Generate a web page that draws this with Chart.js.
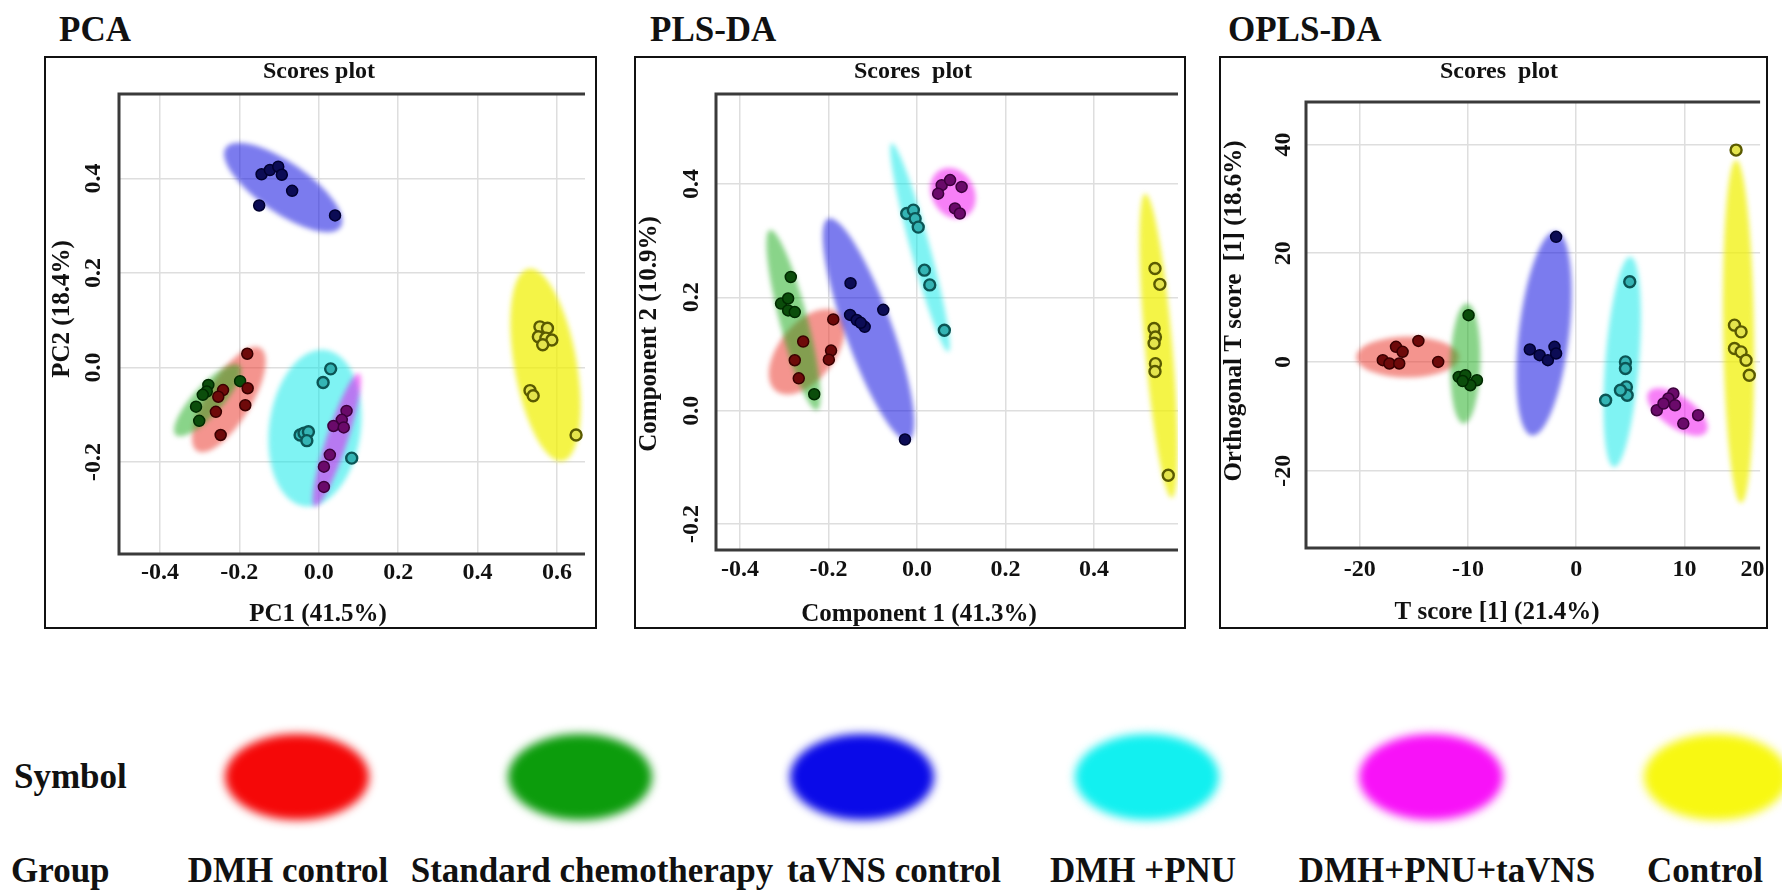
<!DOCTYPE html>
<html>
<head>
<meta charset="utf-8">
<script src="https://cdn.jsdelivr.net/npm/chart.js@4.4.1/dist/chart.umd.min.js"></script>
<style>
  body { margin:0; background:#fff; width:1782px; height:890px; overflow:hidden; position:relative;
         font-family:"Liberation Serif", "Times New Roman", serif; font-weight:bold; color:#111; }
  .t { position:absolute; white-space:nowrap; line-height:1; font-size:35px; }
  .c { transform:translateX(-50%); }
  canvas { position:absolute; }
  .blob { position:absolute; border-radius:50%; filter:blur(5px); }
</style>
</head>
<body>
<div class="t" style="left:59px;top:12px">PCA</div>
<div class="t" style="left:650px;top:12px">PLS-DA</div>
<div class="t" style="left:1228px;top:12px">OPLS-DA</div>

<canvas id="pca" width="553" height="573" style="left:44px;top:56px"></canvas>
<canvas id="plsda" width="552" height="573" style="left:634px;top:56px"></canvas>
<canvas id="oplsda" width="549" height="573" style="left:1219px;top:56px"></canvas>

<div class="t" style="left:14px;top:759px">Symbol</div>
<div class="t" style="left:11px;top:853px">Group</div>
<div id="legend"></div>

<script>
// grupos (mismo orden en los tres paneles)
const groupNames = ['DMH control', 'Standard chemotherapy', 'taVNS control', 'DMH +PNU', 'DMH+PNU+taVNS', 'Control'];
const groupColors = ['#f50808', '#0c9c0c', '#0a0ae8', '#12f0f0', '#f812f8', '#f8f812'];

// ===== PCA =====
const pcaXTicks = [-0.4, -0.2, 0.0, 0.2, 0.4, 0.6];
const pcaYTicks = [-0.2, 0.0, 0.2, 0.4];
const pcaDmh      = [[-0.180, 0.029], [-0.179, -0.044], [-0.241, -0.048], [-0.253, -0.062], [-0.259, -0.094], [-0.185, -0.080], [-0.247, -0.143]];
const pcaChemo    = [[-0.278, -0.037], [-0.282, -0.051], [-0.292, -0.058], [-0.309, -0.083], [-0.301, -0.113], [-0.198, -0.029]];
const pcaTavns    = [[-0.144, 0.409], [-0.123, 0.418], [-0.102, 0.425], [-0.093, 0.408], [-0.067, 0.374], [-0.150, 0.343], [0.041, 0.322]];
const pcaPnu      = [[0.030, -0.003], [0.011, -0.032], [-0.047, -0.143], [-0.037, -0.139], [-0.026, -0.136], [-0.030, -0.155], [0.083, -0.192]];
const pcaPnuTavns = [[0.070, -0.092], [0.058, -0.111], [0.037, -0.124], [0.063, -0.127], [0.028, -0.185], [0.013, -0.210], [0.013, -0.253]];
const pcaControl  = [[0.557, 0.086], [0.576, 0.083], [0.553, 0.065], [0.572, 0.062], [0.587, 0.058], [0.564, 0.048], [0.532, -0.049], [0.540, -0.060], [0.648, -0.143]];
// elipses: extremo 1 (x,y), extremo 2 (x,y) del eje mayor, razón eje menor/mayor
const pcaEllipses = [
  [-0.306, -0.177, -0.147, 0.041, 0.37],
  [-0.360, -0.143, -0.200, 0.004, 0.31],
  [-0.234, 0.465, 0.055, 0.297, 0.36],
  [0.017, 0.037, -0.036, -0.294, 0.58],
  [0.101, -0.013, -0.010, -0.294, 0.15],
  [0.528, 0.209, 0.614, -0.198, 0.32]
];

// ===== PLS-DA =====
const plsXTicks = [-0.4, -0.2, 0.0, 0.2, 0.4];
const plsYTicks = [-0.2, 0.0, 0.2, 0.4];
const plsDmh      = [[-0.189, 0.161], [-0.257, 0.122], [-0.276, 0.089], [-0.194, 0.106], [-0.199, 0.090], [-0.267, 0.057]];
const plsChemo    = [[-0.285, 0.236], [-0.307, 0.189], [-0.291, 0.198], [-0.291, 0.177], [-0.276, 0.174], [-0.232, 0.029]];
const plsTavns    = [[-0.150, 0.225], [-0.076, 0.178], [-0.151, 0.169], [-0.136, 0.160], [-0.118, 0.148], [-0.127, 0.155], [-0.027, -0.051]];
const plsPnu      = [[-0.023, 0.348], [-0.008, 0.354], [-0.004, 0.339], [0.003, 0.324], [0.017, 0.248], [0.029, 0.222], [0.062, 0.142]];
const plsPnuTavns = [[0.056, 0.398], [0.075, 0.407], [0.048, 0.383], [0.101, 0.395], [0.086, 0.357], [0.097, 0.348]];
const plsControl  = [[0.538, 0.251], [0.549, 0.223], [0.536, 0.145], [0.539, 0.130], [0.536, 0.119], [0.539, 0.083], [0.538, 0.069], [0.568, -0.114]];
const plsEllipses = [
  [-0.179, 0.173, -0.319, 0.035, 0.56],
  [-0.332, 0.319, -0.226, 0.001, 0.15],
  [-0.200, 0.339, -0.019, -0.052, 0.20],
  [-0.057, 0.472, 0.071, 0.104, 0.09],
  [0.052, 0.425, 0.111, 0.343, 0.80],
  [0.516, 0.383, 0.576, -0.154, 0.09]
];

// ===== OPLS-DA =====
const oplsXTicks = [-20, -10, 0, 10, 20];
const oplsYTicks = [-20, 0, 20, 40];
const oplsDmh      = [[-14.59, 3.88], [-16.66, 2.78], [-16.05, 1.86], [-17.88, 0.33], [-17.27, -0.28], [-16.36, -0.28], [-12.76, 0.02]];
const oplsChemo    = [[-9.95, 8.61], [-10.86, -2.74], [-10.25, -2.43], [-9.18, -3.35], [-9.79, -4.27], [-10.50, -3.50]];
const oplsTavns    = [[-1.86, 23.01], [-4.29, 2.30], [-3.38, 1.25], [-2.62, 0.33], [-2.01, 2.78], [-1.86, 1.56]];
const oplsPnu      = [[4.95, 14.74], [4.55, 0.02], [4.55, -1.20], [4.64, -4.58], [4.71, -6.11], [2.72, -7.03], [4.09, -5.19]];
const oplsPnuTavns = [[8.98, -5.80], [8.52, -6.72], [9.13, -7.95], [7.45, -8.87], [8.07, -7.64], [11.27, -9.79], [9.90, -11.32]];
const oplsControl  = [[14.78, 38.96], [14.63, 6.77], [15.24, 5.54], [14.63, 2.48], [15.24, 1.86], [15.70, 0.33], [16.00, -2.43]];
const oplsEllipses = [
  [-20.32, 0.9, -10.86, 0.9, 0.40],
  [-10.10, 10.76, -10.40, -11.31, 0.25],
  [-1.87, 24.0, -4.09, -13.5, 0.245],
  [5.01, 19.33, 3.49, -19.30, 0.16],
  [6.69, -5.50, 12.03, -12.86, 0.45],
  [14.78, 37.12, 15.24, -25.95, 0.09]
];

// ===== estilos =====
const ellipseFill = ['rgba(235,60,50,0.55)', 'rgba(20,170,20,0.5)', 'rgba(20,20,225,0.56)',
                     'rgba(0,232,232,0.5)', 'rgba(240,0,240,0.5)', 'rgba(240,240,0,0.72)'];
const pointFill = ['#6e0a0a', '#0b4d0b', '#0c0c55', '#34b4b4', '#6a0a6a', '#e4e44c'];
const pointEdge = ['#3a0000', '#002a00', '#000030', '#0b5555', '#3c003c', '#5a5a00'];
const pointEdgeW = [1.5, 1.5, 1.5, 2.4, 1.5, 2.4];
const FONT = '"Liberation Serif", "Times New Roman", serif';

function drawEllipses(chart, list) {
  const { ctx, chartArea: a, scales: { x, y } } = chart;
  ctx.save();
  ctx.beginPath();
  ctx.rect(a.left, a.top, a.right - a.left, a.bottom - a.top);
  ctx.clip();
  ctx.filter = 'blur(2.5px)';
  list.forEach((e, i) => {
    const x1 = x.getPixelForValue(e[0]), y1 = y.getPixelForValue(e[1]);
    const x2 = x.getPixelForValue(e[2]), y2 = y.getPixelForValue(e[3]);
    const r = Math.hypot(x2 - x1, y2 - y1) / 2;
    ctx.fillStyle = ellipseFill[i];
    ctx.beginPath();
    ctx.ellipse((x1 + x2) / 2, (y1 + y2) / 2, r, r * e[4], Math.atan2(y2 - y1, x2 - x1), 0, Math.PI * 2);
    ctx.fill();
  });
  ctx.restore();
}

function drawFrame(chart, p) {
  const { ctx, chartArea: a, width, height, scales: { y } } = chart;
  ctx.save();
  // ejes del área de trazado (izq, arriba, abajo)
  ctx.strokeStyle = '#3a3a3a';
  ctx.lineWidth = 3;
  ctx.beginPath();
  ctx.moveTo(a.right, a.top); ctx.lineTo(a.left, a.top);
  ctx.lineTo(a.left, a.bottom); ctx.lineTo(a.right, a.bottom);
  ctx.stroke();
  // marco exterior
  ctx.strokeStyle = '#111';
  ctx.lineWidth = 2;
  ctx.strokeRect(1, 1, width - 2, height - 2);

  ctx.fillStyle = '#111';
  ctx.textAlign = 'center';
  ctx.textBaseline = 'alphabetic';
  ctx.font = 'bold 24px ' + FONT;
  ctx.fillText(p.heading, p.headingX, 22);
  ctx.font = 'bold 25px ' + FONT;
  ctx.fillText(p.xTitle, p.xTitleX, p.xTitleY);

  ctx.textBaseline = 'middle';
  ctx.save();
  ctx.translate(p.yTitleX, p.yTitleY);
  ctx.rotate(-Math.PI / 2);
  ctx.fillText(p.yTitle, 0, 0);
  ctx.restore();

  ctx.font = 'bold 24px ' + FONT;
  y.ticks.forEach(t => {
    ctx.save();
    ctx.translate(p.yTickX, y.getPixelForValue(t.value));
    ctx.rotate(-Math.PI / 2);
    ctx.fillText(t.value.toFixed(p.dec), 0, 0);
    ctx.restore();
  });
  ctx.restore();
}

function scorePanel(id, p) {
  const cv = document.getElementById(id);
  const H = cv.height;
  const xMax = p.xRange[1];
  const datasets = p.groups.map((pts, i) => ({
    label: groupNames[i],
    data: pts.map(([x, y]) => ({ x, y })),
    backgroundColor: pointFill[i],
    borderColor: pointEdge[i],
    borderWidth: pointEdgeW[i],
    pointRadius: 5.5,
    pointHoverRadius: 5.5
  }));
  const gridColor = '#dedede';
  return new Chart(cv, {
    type: 'scatter',
    data: { datasets },
    options: {
      responsive: false,
      animation: false,
      events: [],
      layout: { padding: { left: 0, top: p.area.top, right: p.area.right, bottom: 0 } },
      plugins: { legend: { display: false }, tooltip: { enabled: false } },
      scales: {
        x: {
          type: 'linear', min: p.xRange[0], max: xMax,
          // la etiqueta que cae fuera del rango se pega al borde derecho, como en la figura original
          afterBuildTicks: s => { s.ticks = p.xTicks.map(v => ({ value: v > xMax ? xMax - 0.7 : v })); },
          afterFit: s => { s.height = H - p.area.bottom; s.paddingLeft = 0; s.paddingRight = 0; },
          ticks: {
            autoSkip: false, maxRotation: 0, minRotation: 0, padding: p.tickPad, color: '#111',
            font: { family: FONT, weight: 'bold', size: 24 },
            callback: (v, i) => p.xTicks[i].toFixed(p.dec)
          },
          grid: {
            drawTicks: false, lineWidth: 1.5,
            color: c => (p.xTicks[c.index] > xMax) ? 'rgba(0,0,0,0)' : gridColor
          },
          border: { display: false }
        },
        y: {
          type: 'linear', min: p.yRange[0], max: p.yRange[1],
          afterBuildTicks: s => { s.ticks = p.yTicks.map(v => ({ value: v })); },
          afterFit: s => { s.width = p.area.left; s.paddingTop = 0; s.paddingBottom = 0; },
          ticks: { display: false },
          grid: { drawTicks: false, lineWidth: 1.5, color: gridColor },
          border: { display: false }
        }
      }
    },
    plugins: [{
      id: 'decor_' + id,
      beforeDatasetsDraw: chart => drawEllipses(chart, p.ellipses),
      afterDatasetsDraw: chart => drawFrame(chart, p)
    }]
  });
}

scorePanel('pca', {
  groups: [pcaDmh, pcaChemo, pcaTavns, pcaPnu, pcaPnuTavns, pcaControl],
  ellipses: pcaEllipses, xTicks: pcaXTicks, yTicks: pcaYTicks, dec: 1,
  xRange: [-0.503, 0.6705], yRange: [-0.395, 0.579],
  area: { left: 75, top: 38, right: 12, bottom: 498 }, tickPad: 4,
  heading: 'Scores plot', headingX: 275,
  xTitle: 'PC1 (41.5%)', xTitleX: 274, xTitleY: 565,
  yTitle: 'PC2 (18.4%)', yTitleX: 19, yTitleY: 253, yTickX: 50
});

scorePanel('plsda', {
  groups: [plsDmh, plsChemo, plsTavns, plsPnu, plsPnuTavns, plsControl],
  ellipses: plsEllipses, xTicks: plsXTicks, yTicks: plsYTicks, dec: 1,
  xRange: [-0.454, 0.590], yRange: [-0.246, 0.559],
  area: { left: 82, top: 38, right: 8, bottom: 494 }, tickPad: 5,
  heading: 'Scores  plot', headingX: 279,
  xTitle: 'Component 1 (41.3%)', xTitleX: 285, xTitleY: 565,
  yTitle: 'Component 2 (10.9%)', yTitleX: 16, yTitleY: 278, yTickX: 58
});

scorePanel('oplsda', {
  groups: [oplsDmh, oplsChemo, oplsTavns, oplsPnu, oplsPnuTavns, oplsControl],
  ellipses: oplsEllipses, xTicks: oplsXTicks, yTicks: oplsYTicks, dec: 0,
  xRange: [-24.98, 17.0], yRange: [-34.2, 47.8],
  area: { left: 87, top: 46, right: 4, bottom: 492 }, tickPad: 7,
  heading: 'Scores  plot', headingX: 280,
  xTitle: 'T score [1] (21.4%)', xTitleX: 278, xTitleY: 563,
  yTitle: 'Orthogonal T score  [1] (18.6%)', yTitleX: 16, yTitleY: 255, yTickX: 64.5
});

// ===== leyenda inferior =====
const legendBlobX = [297, 580, 862, 1147, 1431, 1716];
const legendTextX = [288, 592, 894, 1143, 1447, 1705];
const $legend = document.getElementById('legend');
groupNames.forEach((name, i) => {
  const blob = document.createElement('div');
  blob.className = 'blob';
  blob.style.cssText = `left:${legendBlobX[i] - 72}px;top:${777 - 43}px;width:144px;height:86px;background:${groupColors[i]};`;
  $legend.appendChild(blob);
  const txt = document.createElement('div');
  txt.className = 't c';
  txt.style.cssText = `left:${legendTextX[i]}px;top:853px;`;
  txt.textContent = name;
  $legend.appendChild(txt);
});
</script>
</body>
</html>
